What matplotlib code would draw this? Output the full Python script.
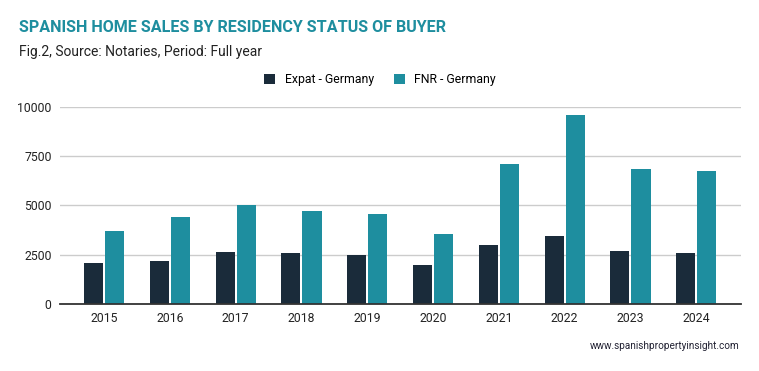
import numpy as np
import matplotlib
matplotlib.use('Agg')
import matplotlib.pyplot as plt

plt.rcParams['font.family'] = ['Roboto', 'DejaVu Sans']

years = ['2015', '2016', '2017', '2018', '2019', '2020', '2021', '2022', '2023', '2024']
expat = [2080, 2200, 2650, 2600, 2500, 1995, 3010, 3465, 2705, 2600]
fnr = [3720, 4430, 5030, 4735, 4585, 3570, 7120, 9600, 6865, 6765]

c_expat = '#1a2b3a'
c_fnr = '#1e8e9f'

fig = plt.figure(figsize=(7.59, 3.71), dpi=100)
ax = fig.add_axes([60 / 759, 1 - 304 / 371, 681 / 759, 197 / 371])

x = np.arange(len(years))
w = 0.29
ax.bar(x - 0.16, expat, w, color=c_expat, label='Expat - Germany', zorder=3)
ax.bar(x + 0.16, fnr, w, color=c_fnr, label='FNR - Germany', zorder=3)

ax.set_xlim(-0.67, 9.68)
ax.set_ylim(0, 10000)
ax.set_yticks([0, 2500, 5000, 7500, 10000])
ax.set_xticks(x)
ax.set_xticklabels(years)
ax.tick_params(length=0, labelsize=8.8, colors='#222222')
ax.tick_params(axis='y', pad=6)
ax.tick_params(axis='x', pad=6)
ax.grid(axis='y', color='#cccccc', linewidth=1, zorder=0)
for s in ['top', 'right', 'left']:
    ax.spines[s].set_visible(False)
ax.spines['bottom'].set_color('#333333')
ax.spines['bottom'].set_linewidth(1.3)
ax.spines['bottom'].set_zorder(4)

fig.text(19 / 759, 1 - 28 / 371, 'SPANISH HOME SALES BY RESIDENCY STATUS OF BUYER',
         color=c_fnr, fontsize=11.6, fontweight='bold', va='center')
fig.text(19 / 759, 1 - 52 / 371, 'Fig.2, Source: Notaries, Period: Full year',
         color='#222222', fontsize=10, va='center')
fig.legend(loc='center', bbox_to_anchor=(380 / 759, 1 - 80 / 371), ncol=2, frameon=False,
           fontsize=8.8, handlelength=0.9, handleheight=0.9, columnspacing=1.6, handletextpad=0.8)
fig.text(740 / 759, 1 - 346 / 371, 'www.spanishpropertyinsight.com',
         color='#222233', fontsize=7.2, ha='right', va='center')

fig.savefig('out.png', dpi=100)
